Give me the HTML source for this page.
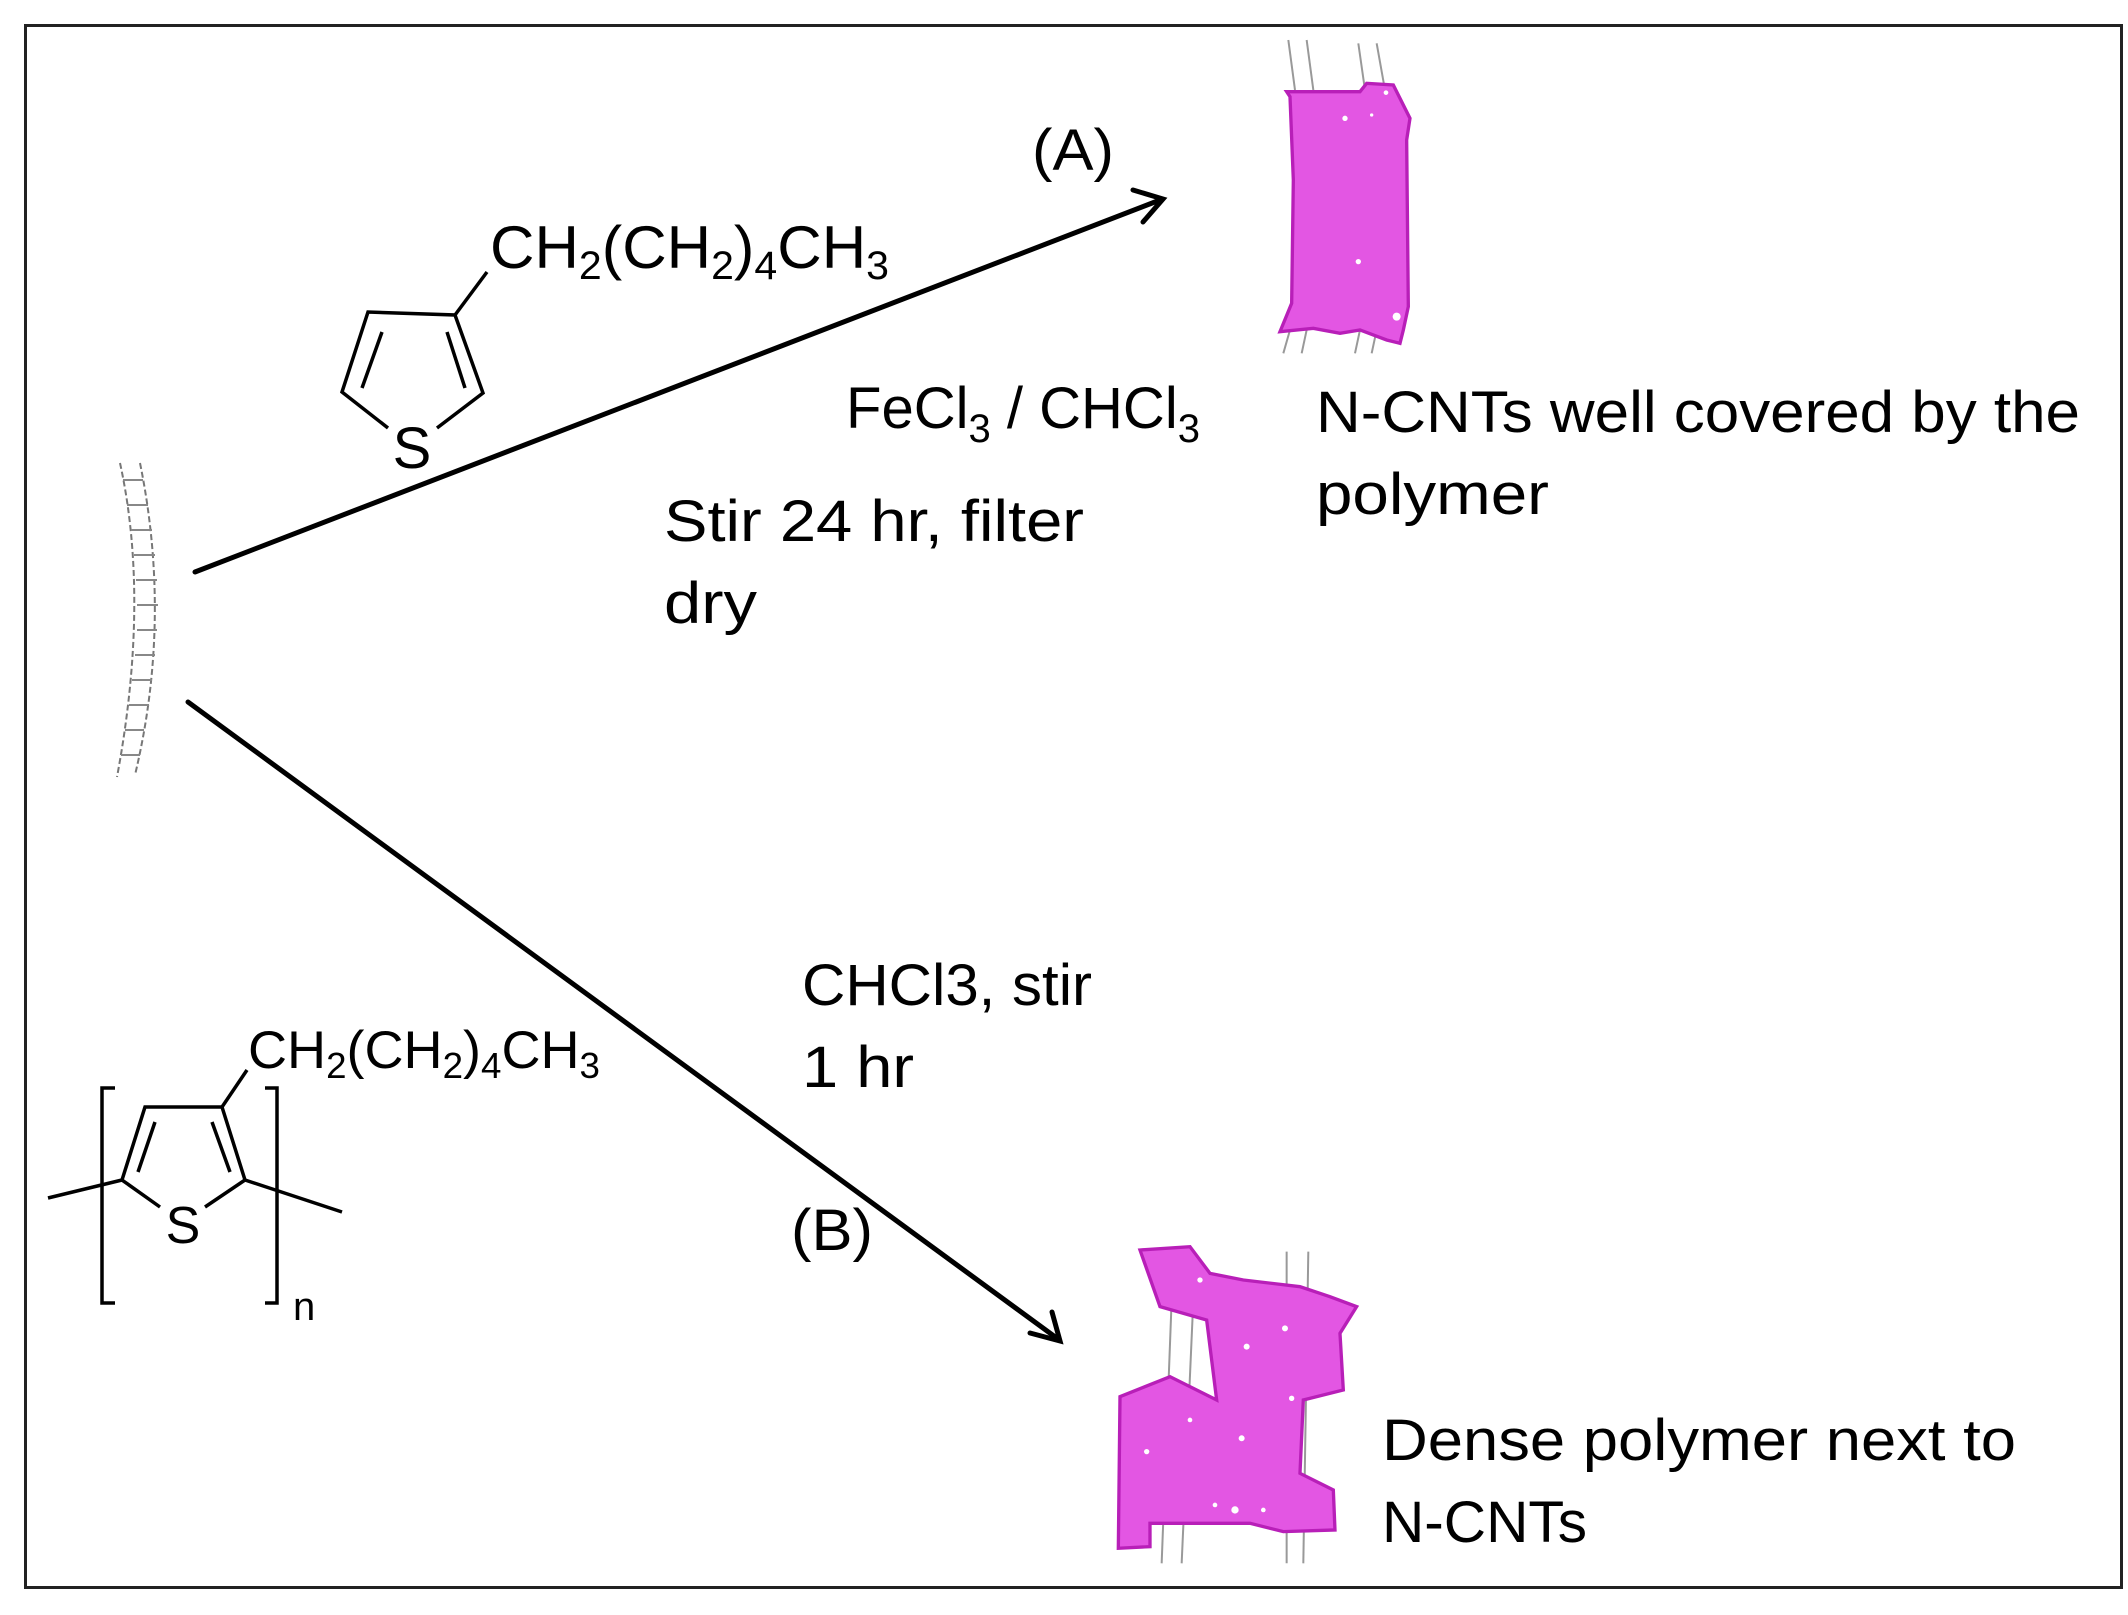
<!DOCTYPE html>
<html><head><meta charset="utf-8"><style>
html,body{margin:0;padding:0;background:#fff;}
svg{display:block;}
text{font-family:"Liberation Sans",sans-serif;fill:#000;}
</style></head><body>
<svg width="2128" height="1615" viewBox="0 0 2128 1615" xmlns="http://www.w3.org/2000/svg">
<rect x="0" y="0" width="2128" height="1615" fill="#fff"/>
<rect x="25.5" y="25.5" width="2096" height="1562" fill="none" stroke="#222" stroke-width="3"/>

<!-- left CNT -->
<g fill="none" stroke="#777" stroke-width="2" stroke-dasharray="6 3">
<path d="M120,463 Q150,600 117,777"/>
<path d="M140,463 Q172,620 135,775"/>
</g>
<g stroke="#888" stroke-width="2">
<line x1="123" y1="480" x2="143" y2="480"/><line x1="127" y1="505" x2="148" y2="505"/>
<line x1="131" y1="530" x2="152" y2="530"/><line x1="134" y1="555" x2="155" y2="555"/>
<line x1="136" y1="580" x2="157" y2="580"/><line x1="137" y1="605" x2="158" y2="605"/>
<line x1="137" y1="630" x2="157" y2="630"/><line x1="135" y1="655" x2="155" y2="655"/>
<line x1="132" y1="680" x2="152" y2="680"/><line x1="129" y1="705" x2="149" y2="705"/>
<line x1="125" y1="730" x2="144" y2="730"/><line x1="121" y1="755" x2="140" y2="755"/>
</g>

<!-- arrows -->
<g stroke="#000" stroke-width="5" fill="none" stroke-linecap="round">
<line x1="195" y1="572" x2="1160" y2="200"/>
<polyline points="1133,190 1163,199 1143,222"/>
<line x1="188" y1="702" x2="1058" y2="1339"/>
<polyline points="1030,1333 1060,1341 1052,1312"/>
</g>

<!-- top thiophene -->
<g stroke="#000" stroke-width="3.5" fill="none">
<polyline points="388,428 342,392 368,312 455,315 483,393 437,428"/>
<line x1="382" y1="332" x2="362" y2="388"/>
<line x1="447" y1="332" x2="465" y2="388"/>
<line x1="455" y1="315" x2="487" y2="272"/>
</g>
<text x="412" y="468" font-size="58" text-anchor="middle">S</text>
<text x="490" y="268" font-size="60" textLength="399" lengthAdjust="spacingAndGlyphs">CH<tspan font-size="40" dy="11">2</tspan><tspan dy="-11">(CH</tspan><tspan font-size="40" dy="11">2</tspan><tspan dy="-11">)</tspan><tspan font-size="40" dy="11">4</tspan><tspan dy="-11">CH</tspan><tspan font-size="40" dy="11">3</tspan></text>

<!-- polymer -->
<g stroke="#000" stroke-width="3.5" fill="none">
<polyline points="160,1207 122,1180 145,1107 222,1107 245,1180 205,1207"/>
<line x1="155" y1="1122" x2="138" y2="1172"/>
<line x1="212" y1="1122" x2="230" y2="1172"/>
<line x1="222" y1="1107" x2="247" y2="1070"/>
<line x1="48" y1="1198" x2="122" y2="1180"/>
<line x1="245" y1="1180" x2="342" y2="1212"/>
<polyline points="115,1088 102,1088 102,1303 115,1303"/>
<polyline points="265,1088 277,1088 277,1303 265,1303"/>
</g>
<text x="183" y="1243" font-size="52" text-anchor="middle">S</text>
<text x="293" y="1320" font-size="40">n</text>
<text x="248" y="1068" font-size="53" textLength="352" lengthAdjust="spacingAndGlyphs">CH<tspan font-size="36" dy="10">2</tspan><tspan dy="-10">(CH</tspan><tspan font-size="36" dy="10">2</tspan><tspan dy="-10">)</tspan><tspan font-size="36" dy="10">4</tspan><tspan dy="-10">CH</tspan><tspan font-size="36" dy="10">3</tspan></text>

<!-- CNT A + polymer rect -->
<g transform="translate(1260,30) scale(0.3333)">
<g stroke="#999" stroke-width="6" fill="none">
<line x1="85" y1="30" x2="105" y2="180"/><line x1="140" y1="30" x2="160" y2="180"/>
<line x1="295" y1="40" x2="315" y2="180"/><line x1="350" y1="40" x2="375" y2="180"/>
<line x1="90" y1="900" x2="70" y2="970"/><line x1="140" y1="900" x2="125" y2="970"/>
<line x1="300" y1="900" x2="285" y2="970"/><line x1="350" y1="900" x2="335" y2="970"/>
</g>
<path d="M80,185 L300,185 L320,160 L400,165 L450,265 L440,330 L445,830 L430,900 L420,940 L380,930 L300,900 L240,910 L160,895 L60,905 L95,820 L100,450 L90,200 Z" fill="#e356e3" stroke="#b81fb8" stroke-width="10"/>
<g fill="#fff"><circle cx="255" cy="265" r="8"/><circle cx="295" cy="695" r="8"/><circle cx="410" cy="860" r="12"/><circle cx="378" cy="188" r="7"/><circle cx="335" cy="255" r="5"/></g>
</g>

<!-- blob B -->
<g transform="translate(1100,1200) scale(0.3333)">
<g stroke="#999" stroke-width="6" fill="none">
<line x1="215" y1="300" x2="185" y2="1090"/><line x1="280" y1="300" x2="245" y2="1090"/>
<line x1="560" y1="155" x2="560" y2="1090"/><line x1="625" y1="155" x2="610" y2="1090"/>
</g>
<path d="M120,150 L270,140 L330,220 L430,240 L600,260 L690,290 L770,320 L720,400 L730,570 L610,600 L600,820 L700,870 L705,990 L550,995 L450,970 L150,970 L150,1040 L55,1045 L60,590 L210,530 L350,600 L320,360 L180,320 Z" fill="#e356e3" stroke="#b81fb8" stroke-width="10"/>
<g fill="#fff"><circle cx="440" cy="440" r="9"/><circle cx="555" cy="385" r="9"/><circle cx="425" cy="715" r="9"/><circle cx="405" cy="930" r="11"/><circle cx="300" cy="240" r="8"/><circle cx="140" cy="755" r="8"/><circle cx="575" cy="595" r="8"/><circle cx="270" cy="660" r="7"/><circle cx="345" cy="915" r="7"/><circle cx="490" cy="930" r="7"/></g>
</g>

<!-- labels -->
<text x="1032" y="170" font-size="58" textLength="82" lengthAdjust="spacingAndGlyphs">(A)</text>
<text x="846" y="428" font-size="58" textLength="354" lengthAdjust="spacingAndGlyphs">FeCl<tspan font-size="40" dy="14">3</tspan><tspan dy="-14"> / CHCl</tspan><tspan font-size="40" dy="14">3</tspan></text>
<text x="664" y="541" font-size="58" textLength="420" lengthAdjust="spacingAndGlyphs">Stir 24 hr, filter</text>
<text x="664" y="623" font-size="58" textLength="93" lengthAdjust="spacingAndGlyphs">dry</text>
<text x="1316" y="432" font-size="58" textLength="764" lengthAdjust="spacingAndGlyphs">N-CNTs well covered by the</text>
<text x="1316" y="514" font-size="58" textLength="233" lengthAdjust="spacingAndGlyphs">polymer</text>
<text x="802" y="1005" font-size="58" textLength="290" lengthAdjust="spacingAndGlyphs">CHCl3, stir</text>
<text x="802" y="1087" font-size="58" textLength="112" lengthAdjust="spacingAndGlyphs">1 hr</text>
<text x="791" y="1250" font-size="58" textLength="82" lengthAdjust="spacingAndGlyphs">(B)</text>
<text x="1382" y="1460" font-size="58" textLength="634" lengthAdjust="spacingAndGlyphs">Dense polymer next to</text>
<text x="1382" y="1542" font-size="58" textLength="205" lengthAdjust="spacingAndGlyphs">N-CNTs</text>
</svg>
</body></html>
